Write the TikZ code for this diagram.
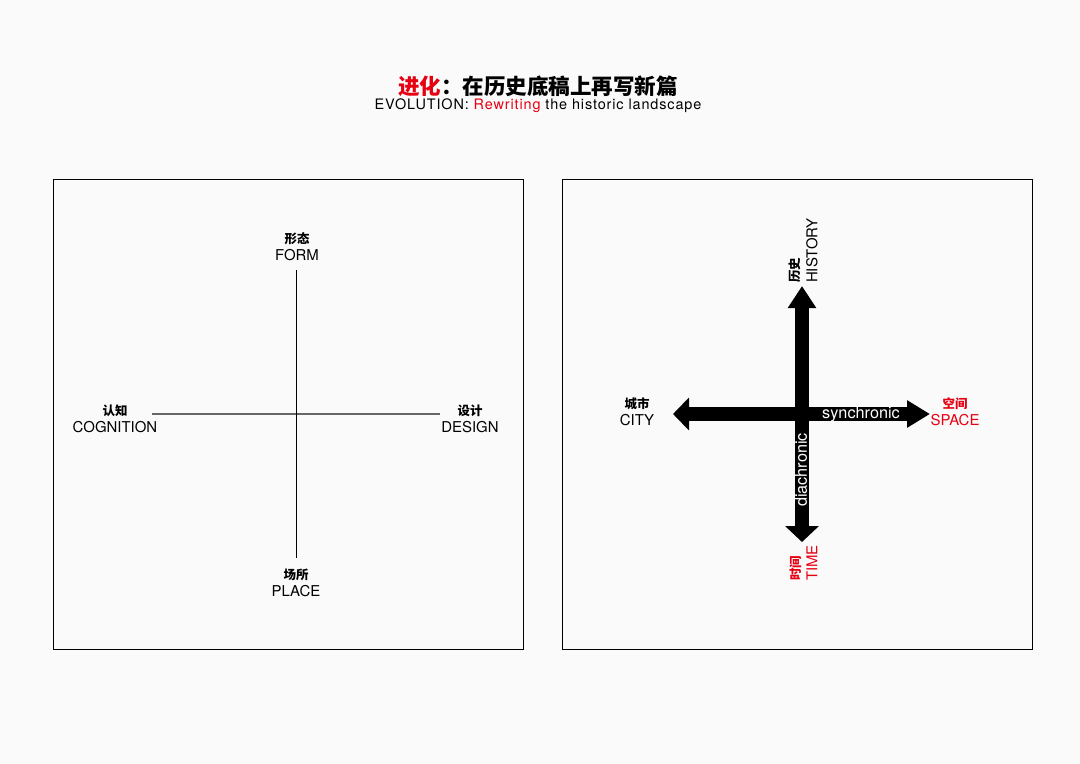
\documentclass[tikz,border=0pt]{standalone}
\usepackage{fontspec}
\setmainfont{TeX Gyre Heros}
\newfontfamily\cjk{Noto Sans CJK SC}
\usetikzlibrary{arrows.meta,positioning}
\definecolor{bgcol}{RGB}{250,250,250}
\definecolor{hired}{RGB}{230,0,18}
\tikzset{panel/.style={draw=black,line width=0.8bp}}
\tikzset{cnlabel/.style={inner sep=0pt,font=\cjk\bfseries\fontsize{12.5}{12.5}\selectfont}}
\tikzset{enlabel/.style={inner sep=0pt,font=\fontsize{15}{15}\selectfont}}
\tikzset{axis/.style={line width=1bp}}
\tikzset{vshaft/.style={line width=14.5bp}}
\tikzset{hshaft/.style={line width=13.5bp}}
\tikzset{inlabel/.style={inner sep=0pt,text=white,font=\fontsize{16.3}{16.3}\selectfont}}

\begin{document}
\begin{tikzpicture}[x=1bp,y=-1bp,node distance=16.5bp]
    \fill[bgcol] (0,0) rectangle (1080,764);
    \useasboundingbox (0,0) rectangle (1080,764);

    % title
    \node[inner sep=0pt,font=\cjk\bfseries\fontsize{21.6}{21.6}\selectfont] (title) at (538,86) {\textcolor{hired}{进化}：在历史底稿上再写新篇};
    \node[inner sep=0pt,below of=title,node distance=19.5bp,font=\fontsize{14.5}{14.5}\selectfont\addfontfeature{LetterSpace=6}] (subtitle) at (538,86) {EVOLUTION: \textcolor{hired}{Rewriting} the historic landscape};

    % panels
    \draw[panel] (53,179) rectangle (523,649);
    \draw[panel] (562,179) rectangle (1032,649);

    % left panel
    \node[cnlabel] (formcn) at (297,239) {形态};
    \node[enlabel,below of=formcn] (form) {FORM};
    \node[cnlabel] (cogcn) at (115,411) {认知};
    \node[enlabel,below of=cogcn] (cognition) {COGNITION};
    \node[cnlabel] (descn) at (470,411) {设计};
    \node[enlabel,below of=descn] (design) {DESIGN};
    \node[cnlabel] (placecn) at (296,575) {场所};
    \node[enlabel,below of=placecn] (place) {PLACE};

    \coordinate (ltop) at (296,270);
    \coordinate (lbot) at (296,558);
    \coordinate (lleft) at (152,414);
    \coordinate (lright) at (440,414);
    \draw[axis,black!60,line width=1.2bp] (lleft) -- (lright);
    \draw[axis] (ltop) -- (lbot);

    % right panel
    \coordinate (rtop) at (802,286);
    \coordinate (rbot) at (802,542);
    \coordinate (rleft) at (673,414);
    \coordinate (rright) at (930,414);
    \draw[vshaft,{Triangle[length=16bp,width=33bp]}-{Triangle[length=22bp,width=27bp]}] (rbot) -- (rtop);
    \draw[hshaft,{Triangle[length=16bp,width=32bp]}-{Triangle[length=23bp,width=26bp]}] (rleft) -- (rright);

    \node[inlabel] (sync) at (861,414) {synchronic};
    \node[inlabel,rotate=90] (dia) at (801,470) {diachronic};

    \node[cnlabel] (citycn) at (637,404) {城市};
    \node[enlabel,below of=citycn,node distance=16bp] (city) {CITY};
    \node[cnlabel,text=hired] (spacecn) at (955,404) {空间};
    \node[enlabel,text=hired,below of=spacecn,node distance=16bp] (space) {SPACE};

    \node[cnlabel,rotate=90,anchor=west] (histcn) at (795,283) {历史};
    \node[enlabel,rotate=90,anchor=west] (history) at (812,283) {HISTORY};
    \node[cnlabel,rotate=90,anchor=west,text=hired] (timecn) at (796,581) {时间};
    \node[enlabel,rotate=90,anchor=west,text=hired] (time) at (812,581) {TIME};
\end{tikzpicture}
\end{document}
